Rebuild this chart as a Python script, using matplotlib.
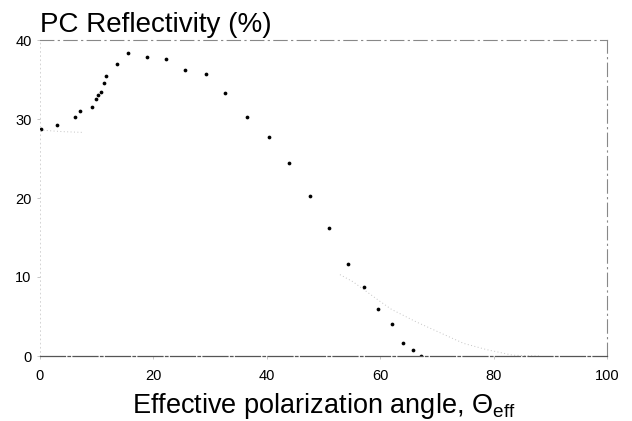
import numpy as np
import matplotlib
matplotlib.use("Agg")
import matplotlib.pyplot as plt

plt.rcParams['font.family'] = ['Liberation Sans', 'DejaVu Sans']
plt.rcParams['mathtext.fontset'] = 'custom'
plt.rcParams['mathtext.rm'] = 'Liberation Sans'
plt.rcParams['mathtext.it'] = 'Liberation Sans'

# Measured reflectivity points
angle = [0.1, 3.05, 6.2, 7.1, 9.2, 9.8, 10.3, 10.8, 11.3, 11.6, 13.6, 15.5,
         18.9, 22.2, 25.6, 29.2, 32.7, 36.5, 40.3, 44.0, 47.7, 51.0, 54.3,
         57.1, 59.7, 62.0, 64.1, 65.7, 67.2]
reflectivity = [28.7, 29.3, 30.2, 31.0, 31.5, 32.5, 33.0, 33.4, 34.5, 35.5,
                37.0, 38.4, 37.8, 37.6, 36.2, 35.7, 33.3, 30.3, 27.7, 24.4,
                20.3, 16.2, 11.6, 8.7, 5.9, 4.1, 1.7, 0.7, 0.0]

# Faint (light) dotted curve visible in the scan
faint_angle = [0.0, 4.0, 7.7, np.nan, 52.9, 55.2, 60.0, 62.0, 66.4, 74.7, 78.8, 83.4, 88.0]
faint_refl = [28.6, 28.4, 28.3, np.nan, 10.3, 9.4, 6.9, 5.9, 4.3, 1.6, 0.8, 0.1, 0.0]

xticks = [0, 20, 40, 60, 80, 100]
yticks = [0, 10, 20, 30, 40]

fig = plt.figure(figsize=(6.32, 4.21), dpi=100)
ax = fig.add_axes([40/632, 1-356/421, 567/632, 316/421])

ax.plot(faint_angle, faint_refl, linestyle=(0, (1, 2.5)), color='#c4c4c4', linewidth=0.7)
ax.plot(angle, reflectivity, linestyle='none', marker='o', markersize=2.7,
        color='black', markeredgewidth=0)

ax.set_xlim(0, 100)
ax.set_ylim(0, 40)
ax.set_xticks(xticks)
ax.set_yticks(yticks)
ax.tick_params(axis='both', length=2, width=0.6, color='#bbbbbb', labelsize=10.5)
ax.tick_params(axis='x', pad=7)
ax.tick_params(axis='y', pad=4)

for side in ['top', 'right']:
    ax.spines[side].set_color('#888888')
    ax.spines[side].set_linewidth(0.8)
    ax.spines[side].set_linestyle((0, (12, 4, 1, 4)))
ax.spines['bottom'].set_color('#555555')
ax.spines['bottom'].set_linewidth(0.9)
ax.spines['bottom'].set_linestyle((0, (20, 2, 2, 2)))
ax.spines['left'].set_color('#cccccc')
ax.spines['left'].set_linewidth(0.6)
ax.spines['left'].set_linestyle((0, (1, 4)))

fig.text(40/632, 1-32/421, 'PC Reflectivity (%)', fontsize=20, ha='left', va='baseline')
ax.set_xlabel(r'Effective polarization angle, $\Theta_{\mathrm{eff}}$', fontsize=19.5, labelpad=6)

fig.savefig('out.png', dpi=100)
